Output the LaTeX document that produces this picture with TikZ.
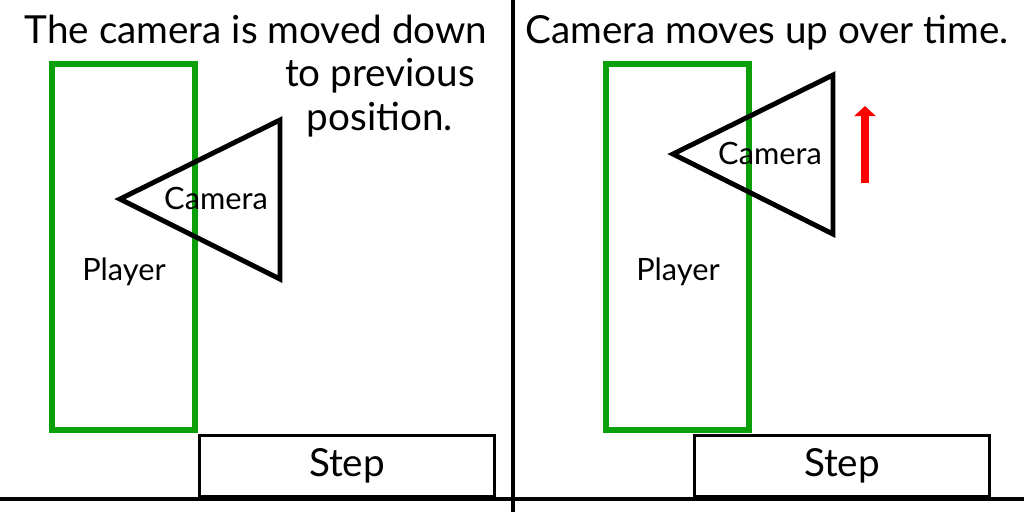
\documentclass[tikz,border=0pt]{standalone}
\usepackage{fontspec}
\setmainfont{Lato}
\usetikzlibrary{arrows.meta}
\definecolor{playergreen}{RGB}{10,160,10}
\tikzset{
  player/.style={draw=playergreen,line width=3.3pt},
  cam/.style={draw=black,line width=2.8pt,line join=miter},
  stepbox/.style={draw=black,line width=1.4pt,fill=white},
  bigtxt/.style={font=\fontsize{22}{24.5}\selectfont},
  smalltxt/.style={font=\fontsize{17.5}{20}\selectfont}
}
\begin{document}
\begin{tikzpicture}[x=0.02cm,y=-0.02cm]
  \useasboundingbox (0,0) rectangle (1024,512);
  % frame lines
  \coordinate (divtop) at (513,0);
  \coordinate (divbot) at (513,512);
  \coordinate (floorl) at (0,499);
  \coordinate (floorr) at (1024,499);
  \draw[line width=2.8pt] (divtop) -- (divbot);
  \draw[line width=2.8pt] (floorl) -- (floorr);
  % left panel
  \node[bigtxt,anchor=base] (titleL) at (256,43) {The camera is moved down};
  \node[bigtxt,anchor=base,align=center] (titleL2) at (380,130) {to previous\\position.};
  \draw[player] (52,64) rectangle (195,430);
  \node[smalltxt] (playerL) at (124,272) {Player};
  \draw[cam] (120,199) -- (280,120) -- (280,279) -- cycle;
  \node[smalltxt] (cameraL) at (216,198) {Camera};
  \node[stepbox,minimum width=295*0.02cm,minimum height=61*0.02cm,bigtxt] (stepL) at (347,466) {Step};
  % right panel
  \node[bigtxt,anchor=base] (titleR) at (767,43) {Camera moves up over time.};
  \draw[player] (606,64) rectangle (749,430);
  \node[smalltxt] (playerR) at (678,272) {Player};
  \draw[cam] (673,154) -- (833,75) -- (833,234) -- cycle;
  \node[smalltxt] (cameraR) at (770,153) {Camera};
  \node[stepbox,minimum width=295*0.02cm,minimum height=61*0.02cm,bigtxt] (stepR) at (842,466) {Step};
  \coordinate (upfrom) at (865,183);
  \coordinate (upto) at (865,106);
  \draw[red,line width=4pt,-{Triangle[length=0.2cm,width=0.42cm]}] (upfrom) -- (upto);
\end{tikzpicture}
\end{document}
